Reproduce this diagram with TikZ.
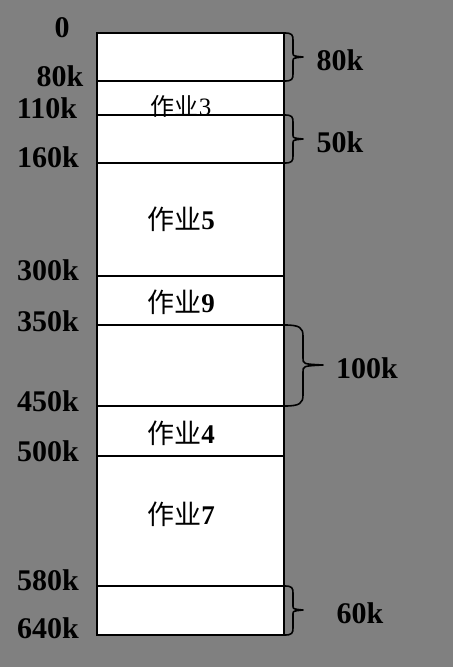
\documentclass[tikz,border=0pt]{standalone}
\usepackage{fontspec}
\setmainfont{Liberation Serif}
\newfontfamily\cjk{Noto Sans CJK SC}
\begin{document}
\begin{tikzpicture}[x=1pt,y=-1pt,
  addr/.style={font=\fontsize{30}{30}\selectfont\bfseries, inner sep=0pt, text=black},
  job/.style={font=\fontsize{27}{27}\selectfont, inner sep=0pt, text=black},
  seg/.style={draw=black, line width=2.2pt, fill=white},
  brace/.style={draw=black, line width=1.6pt, line join=round}]
\useasboundingbox (0,0) rectangle (453,667);
\fill[fill={rgb,255:red,128;green,128;blue,128}] (0,0) rectangle (453,667);
% segments
\draw[seg] (97,33) rectangle (284,81);
\draw[seg] (97,81) rectangle (284,115);
\draw[seg] (97,115) rectangle (284,163);
\draw[seg] (97,163) rectangle (284,276);
\draw[seg] (97,276) rectangle (284,325);
\draw[seg] (97,325) rectangle (284,406);
\draw[seg] (97,406) rectangle (284,456);
\draw[seg] (97,456) rectangle (284,586);
\draw[seg] (97,586) rectangle (284,635);
% job labels
\node[job] (j3) at (181,106) {{\cjk\fontsize{24}{24}\selectfont 作业}\fontsize{25}{25}\selectfont 3};
\node[job] (j5) at (181,219) {{\cjk 作业}\textbf{5}};
\node[job] (j9) at (181,302) {{\cjk 作业}\textbf{9}};
\node[job] (j4) at (181,433) {{\cjk 作业}\textbf{4}};
\node[job] (j7) at (181,514) {{\cjk 作业}\textbf{7}};
% address labels
\node[addr] (a0) at (62,28) {0};
\node[addr] (a80) at (60,76) {80k};
\node[addr] (a110) at (47,108) {110k};
\node[addr] (a160) at (48,157) {160k};
\node[addr] (a300) at (48,270) {300k};
\node[addr] (a350) at (48,321) {350k};
\node[addr] (a450) at (48,401) {450k};
\node[addr] (a500) at (48,451) {500k};
\node[addr] (a580) at (48,580) {580k};
\node[addr] (a640) at (48,628) {640k};
% braces
\draw[brace] (285,33) .. controls (292,33) and (293,35) .. (293,40) -- (293,53) .. controls (293,56) .. (303,57) .. controls (293,58) .. (293,61) -- (293,74) .. controls (293,79) and (292,81) .. (285,81);
\draw[brace] (285,115) .. controls (292,115) and (293,117) .. (293,122) -- (293,135) .. controls (293,138) .. (303,139) .. controls (293,140) .. (293,143) -- (293,156) .. controls (293,161) and (292,163) .. (285,163);
\draw[brace] (285,325) .. controls (300,325) and (303,328) .. (303,336) -- (303,358) .. controls (303,364) .. (323,365) .. controls (303,366) .. (303,372) -- (303,395) .. controls (303,403) and (300,406) .. (285,406);
\draw[brace] (285,586) .. controls (292,586) and (293,588) .. (293,593) -- (293,606) .. controls (293,609) .. (303,610) .. controls (293,611) .. (293,614) -- (293,628) .. controls (293,633) and (292,635) .. (285,635);
% size labels
\node[addr] (s80) at (340,60) {80k};
\node[addr] (s50) at (340,142) {50k};
\node[addr] (s100) at (367,368) {100k};
\node[addr] (s60) at (360,613) {60k};
\end{tikzpicture}
\end{document}
